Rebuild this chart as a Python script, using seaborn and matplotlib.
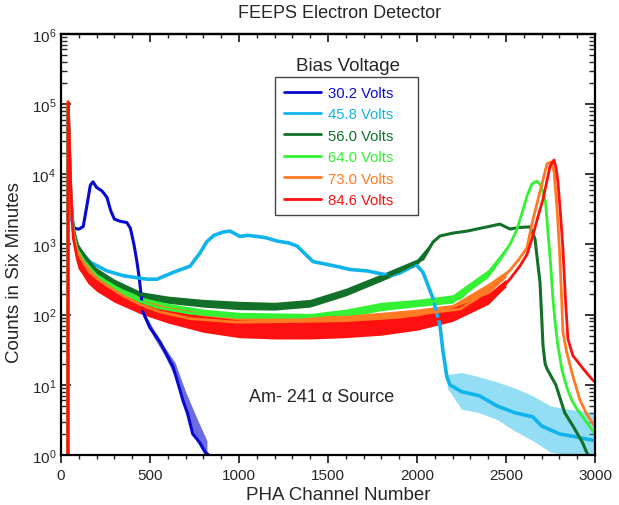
import numpy as np
import pandas as pd
import matplotlib
matplotlib.use("Agg")
import matplotlib.pyplot as plt
import seaborn as sns
from matplotlib.patches import Rectangle
from matplotlib.ticker import LogLocator, MultipleLocator, NullFormatter

## Data (counts vs PHA channel)
labels = ["30.2 Volts", "45.8 Volts", "56.0 Volts", "64.0 Volts", "73.0 Volts", "84.6 Volts"]
colors = ["#0A0ACF", "#10B4EA", "#127028", "#33F233", "#FF7A22", "#FF1010"]

ch_302 = [38, 40, 45, 50, 55, 62, 75, 100, 125, 145, 165, 180, 200, 230, 258, 280, 300, 330, 370,
          390, 410, 427, 440, 460, 500, 556, 600, 630, 660, 685, 710, 740, 780, 810, 830, 840]
cts_302 = [0.1, 9e4, 3e4, 1e4, 4000, 2200, 1700, 1650, 1800, 3500, 7000, 7800, 6500, 5800, 4700, 3000,
           2300, 2150, 2050, 1700, 1000, 560, 330, 110, 65, 41, 25, 18, 10, 6, 4, 2, 1.5, 1.1, 1.0, 0.5]

ch_458 = [38, 40, 45, 50, 55, 62, 67, 80, 100, 163, 258, 348, 444, 483, 540, 630, 725, 780, 820, 860,
          910, 950, 1005, 1050, 1100, 1150, 1213, 1280, 1326, 1416, 1494, 1560, 1624, 1719, 1848, 1900,
          1950, 1978, 2000, 2034, 2090, 2129, 2146, 2168, 2185, 2250, 2350, 2450, 2550, 2650, 2700,
          2800, 2900, 3000]
cts_458 = [0.1, 9e4, 3e4, 1.2e4, 5000, 2500, 1800, 1200, 850, 560, 420, 360, 330, 320, 320, 400, 490,
           750, 1100, 1350, 1500, 1550, 1300, 1350, 1300, 1250, 1120, 1050, 950, 570, 520, 480, 440,
           420, 360, 390, 450, 520, 500, 400, 170, 70, 30, 13, 10, 8, 7, 5, 4, 3.5, 2.6, 2, 1.8, 1.6]

ch_560 = [38, 40, 45, 50, 55, 62, 70, 90, 130, 200, 258, 350, 444, 550, 725, 989, 1062, 1200, 1343,
          1528, 1719, 1904, 2034, 2090, 2129, 2200, 2281, 2380, 2466, 2522, 2580, 2635, 2663, 2680,
          2691, 2700, 2708, 2720, 2730, 2780, 2830, 2880, 2930, 2960, 2980]
cts_560 = [0.1, 9e4, 3e4, 1.2e4, 5000, 2800, 1600, 1000, 700, 420, 330, 240, 195, 175, 155, 140, 137,
           137, 141, 180, 270, 420, 620, 1080, 1320, 1450, 1550, 1750, 1950, 1660, 1750, 1780, 1200,
           500, 290, 100, 36, 20, 17, 10, 4, 2.5, 1.5, 1.0, 0.8]

ch_640 = [38, 40, 45, 50, 55, 62, 70, 90, 130, 200, 258, 350, 444, 550, 725, 989, 1343, 1600, 1904,
          2090, 2242, 2336, 2427, 2522, 2560, 2590, 2618, 2646, 2674, 2695, 2708, 2722, 2736, 2750,
          2764, 2778, 2792, 2815, 2843, 2870, 2899, 2950, 3000]
cts_640 = [0.1, 1e5, 3.5e4, 1.3e4, 5500, 2700, 1500, 850, 580, 360, 280, 200, 155, 125, 105, 92, 92,
           105, 140, 155, 170, 280, 440, 1000, 1600, 2800, 4900, 7300, 8000, 7000, 5600, 4000, 1500,
           550, 166, 70, 36, 16, 9, 6, 4.5, 3, 2]

ch_730 = [38, 40, 45, 50, 55, 62, 70, 90, 130, 200, 258, 350, 444, 550, 725, 989, 1343, 1600, 1904,
          2090, 2242, 2336, 2427, 2522, 2570, 2618, 2652, 2690, 2730, 2752, 2770, 2787, 2800, 2810,
          2820, 2840, 2870, 2916, 2950, 3000]
cts_730 = [0.1, 1.1e5, 3.5e4, 1.3e4, 5500, 2600, 1400, 800, 530, 330, 260, 185, 140, 110, 88, 78, 80,
           82, 92, 108, 120, 170, 250, 430, 600, 900, 2300, 5500, 14000, 15000, 11000, 3200, 900,
           250, 56, 30, 15, 6, 4, 2.5]

ch_846 = [38, 40, 44, 48, 52, 56, 62, 70, 90, 107, 150, 200, 258, 350, 444, 550, 725, 989, 1200, 1343,
          1600, 1904, 2050, 2242, 2336, 2427, 2522, 2580, 2618, 2646, 2680, 2708, 2730, 2747, 2770,
          2782, 2792, 2805, 2820, 2835, 2848, 2876, 2933, 2983, 3000]
cts_846 = [0.1, 1.05e5, 6e4, 2.5e4, 1.1e4, 6000, 2400, 1200, 650, 450, 330, 260, 210, 160, 125, 100,
           78, 62, 60, 62, 63, 67, 80, 100, 130, 175, 320, 500, 720, 1200, 2500, 4400, 8000, 13000,
           16000, 12000, 7700, 3000, 860, 150, 45, 26, 17, 12, 11]

# spread of the counting noise (low / high envelope) where the spectra are noisy
env_ch = [70, 100, 150, 200, 300, 450, 600, 800, 1000, 1200, 1400, 1600, 1800, 2000, 2200, 2400, 2500]
lo_846 = [950, 450, 280, 215, 150, 102, 76, 56, 47, 45, 45, 47, 51, 60, 80, 140, 250]
hi_846 = [1450, 680, 400, 315, 230, 155, 120, 96, 84, 81, 82, 84, 88, 96, 125, 200, 320]
lo_730 = [1150, 520, 320, 250, 180, 120, 94, 76, 68, 66, 67, 69, 75, 86, 104, 200, 340]
hi_730 = [1550, 720, 430, 345, 240, 163, 130, 106, 96, 94, 96, 98, 108, 120, 140, 280, 420]
lo_640 = [1250, 620, 400, 300, 210, 140, 114, 95, 85, 83, 81, 91, 114, 130, 146, 340, 780]
hi_640 = [1650, 820, 500, 385, 270, 178, 145, 120, 108, 106, 104, 120, 150, 165, 192, 440, 920]
lo_560 = [1350, 730, 470, 360, 250, 165, 145, 128, 118, 116, 128, 185, 300, 500, 1050]
hi_560 = [1850, 960, 600, 465, 320, 212, 184, 165, 155, 150, 165, 238, 380, 620, 1150]
env_ch_560 = env_ch[:14] + [2090]

tail_ch_458 = [2170, 2250, 2350, 2450, 2550, 2650, 2750, 2850, 3000]
tail_lo_458 = [9, 4.5, 4, 3.2, 2.2, 1.6, 1.1, 1, 1]
tail_hi_458 = [14, 15, 13, 11, 9, 7, 5, 4.5, 4]
tail_ch_302 = [460, 520, 580, 640, 700, 760, 820]
tail_lo_302 = [95, 48, 27, 13, 4, 1.6, 0.9]
tail_hi_302 = [115, 62, 35, 21, 8, 3.5, 1.6]

channels = [ch_302, ch_458, ch_560, ch_640, ch_730, ch_846]
counts = [cts_302, cts_458, cts_560, cts_640, cts_730, cts_846]
bands = [(tail_ch_302, tail_lo_302, tail_hi_302, 0.6), (tail_ch_458, tail_lo_458, tail_hi_458, 0.45),
         (env_ch_560, lo_560, hi_560, 1.0), (env_ch, lo_640, hi_640, 1.0),
         (env_ch, lo_730, hi_730, 1.0), (env_ch, lo_846, hi_846, 1.0)]
widths = [2.2, 2.6, 2.2, 2.0, 2.0, 2.0]

frames = []
for lab, ch, ct in zip(labels, channels, counts):
    frames.append(pd.DataFrame({"channel": ch, "counts": ct, "bias": lab}))
df = pd.concat(frames, ignore_index=True)

## Plot
sns.set_style("ticks")
plt.rcParams["font.family"] = ["Liberation Sans", "DejaVu Sans"]

fig = plt.figure(figsize=(6.19, 5.06), dpi=100)
ax = fig.add_axes([0.0985, 0.0988, 0.8627, 0.8322])

for lab, col, lw, (bx, blo, bhi, a) in zip(labels, colors, widths, bands):
    ax.fill_between(bx, blo, bhi, color=col, lw=0, alpha=a)
    sns.lineplot(data=df[df["bias"] == lab], x="channel", y="counts", color=col,
                 lw=lw, ax=ax, label=lab, estimator=None, sort=False)

ax.set_yscale("log")
ax.set_xlim(0, 3000)
ax.set_ylim(1, 1e6)
ax.xaxis.set_major_locator(MultipleLocator(500))
ax.xaxis.set_minor_locator(MultipleLocator(100))
ax.yaxis.set_major_locator(LogLocator(base=10, numticks=10))
ax.yaxis.set_minor_locator(LogLocator(base=10, subs=np.arange(2, 10), numticks=20))
ax.yaxis.set_minor_formatter(NullFormatter())

for s in ax.spines.values():
    s.set_linewidth(1.6)
    s.set_color("black")
ax.tick_params(axis="x", which="both", bottom=True, top=False, direction="out", labelsize=11)
ax.tick_params(axis="x", which="major", length=6, width=1.3)
ax.tick_params(axis="x", which="minor", length=3, width=1.0)
ax.tick_params(axis="y", which="both", left=True, right=True, direction="in", labelsize=11)
ax.tick_params(axis="y", which="major", length=7, width=1.3)
ax.tick_params(axis="y", which="minor", length=4, width=1.0)

# top axis: same ticks, pointing inward, no labels
top = ax.secondary_xaxis("top")
top.xaxis.set_major_locator(MultipleLocator(500))
top.xaxis.set_minor_locator(MultipleLocator(100))
top.tick_params(which="both", direction="in", labeltop=False)
top.tick_params(which="major", length=6, width=1.3)
top.tick_params(which="minor", length=3, width=1.0)
top.spines["top"].set_linewidth(1.6)

ax.set_xlabel("PHA Channel Number", fontsize=13.5)
ax.set_ylabel("Counts in Six Minutes", fontsize=13.5)
ax.xaxis.set_label_coords(0.519, -0.073)
ax.yaxis.set_label_coords(-0.072, 0.435)
fig.text(0.549, 1 - 14 / 506, "FEEPS Electron Detector", ha="center", va="center", fontsize=13)

leg = ax.legend(loc="upper left", bbox_to_anchor=(0.4007, 0.898), borderaxespad=0, fontsize=10.7,
                frameon=False, handlelength=2.5, handletextpad=0.45, borderpad=0.6,
                labelspacing=0.5)
for txt, col in zip(leg.get_texts(), colors):
    txt.set_color(col)
for line in leg.get_lines():
    line.set_linewidth(2)
ax.add_patch(Rectangle((0.4007, 0.570), 0.268, 0.328, transform=ax.transAxes, fill=False,
                       edgecolor="#444444", lw=1.0, zorder=6))

ax.text(0.537, 0.925, "Bias Voltage", transform=ax.transAxes, ha="center", va="center", fontsize=13.5)
ax.text(1466, 6.8, "Am- 241 \u03b1 Source", ha="center", va="center", fontsize=13)

fig.savefig("out.png", dpi=100)
